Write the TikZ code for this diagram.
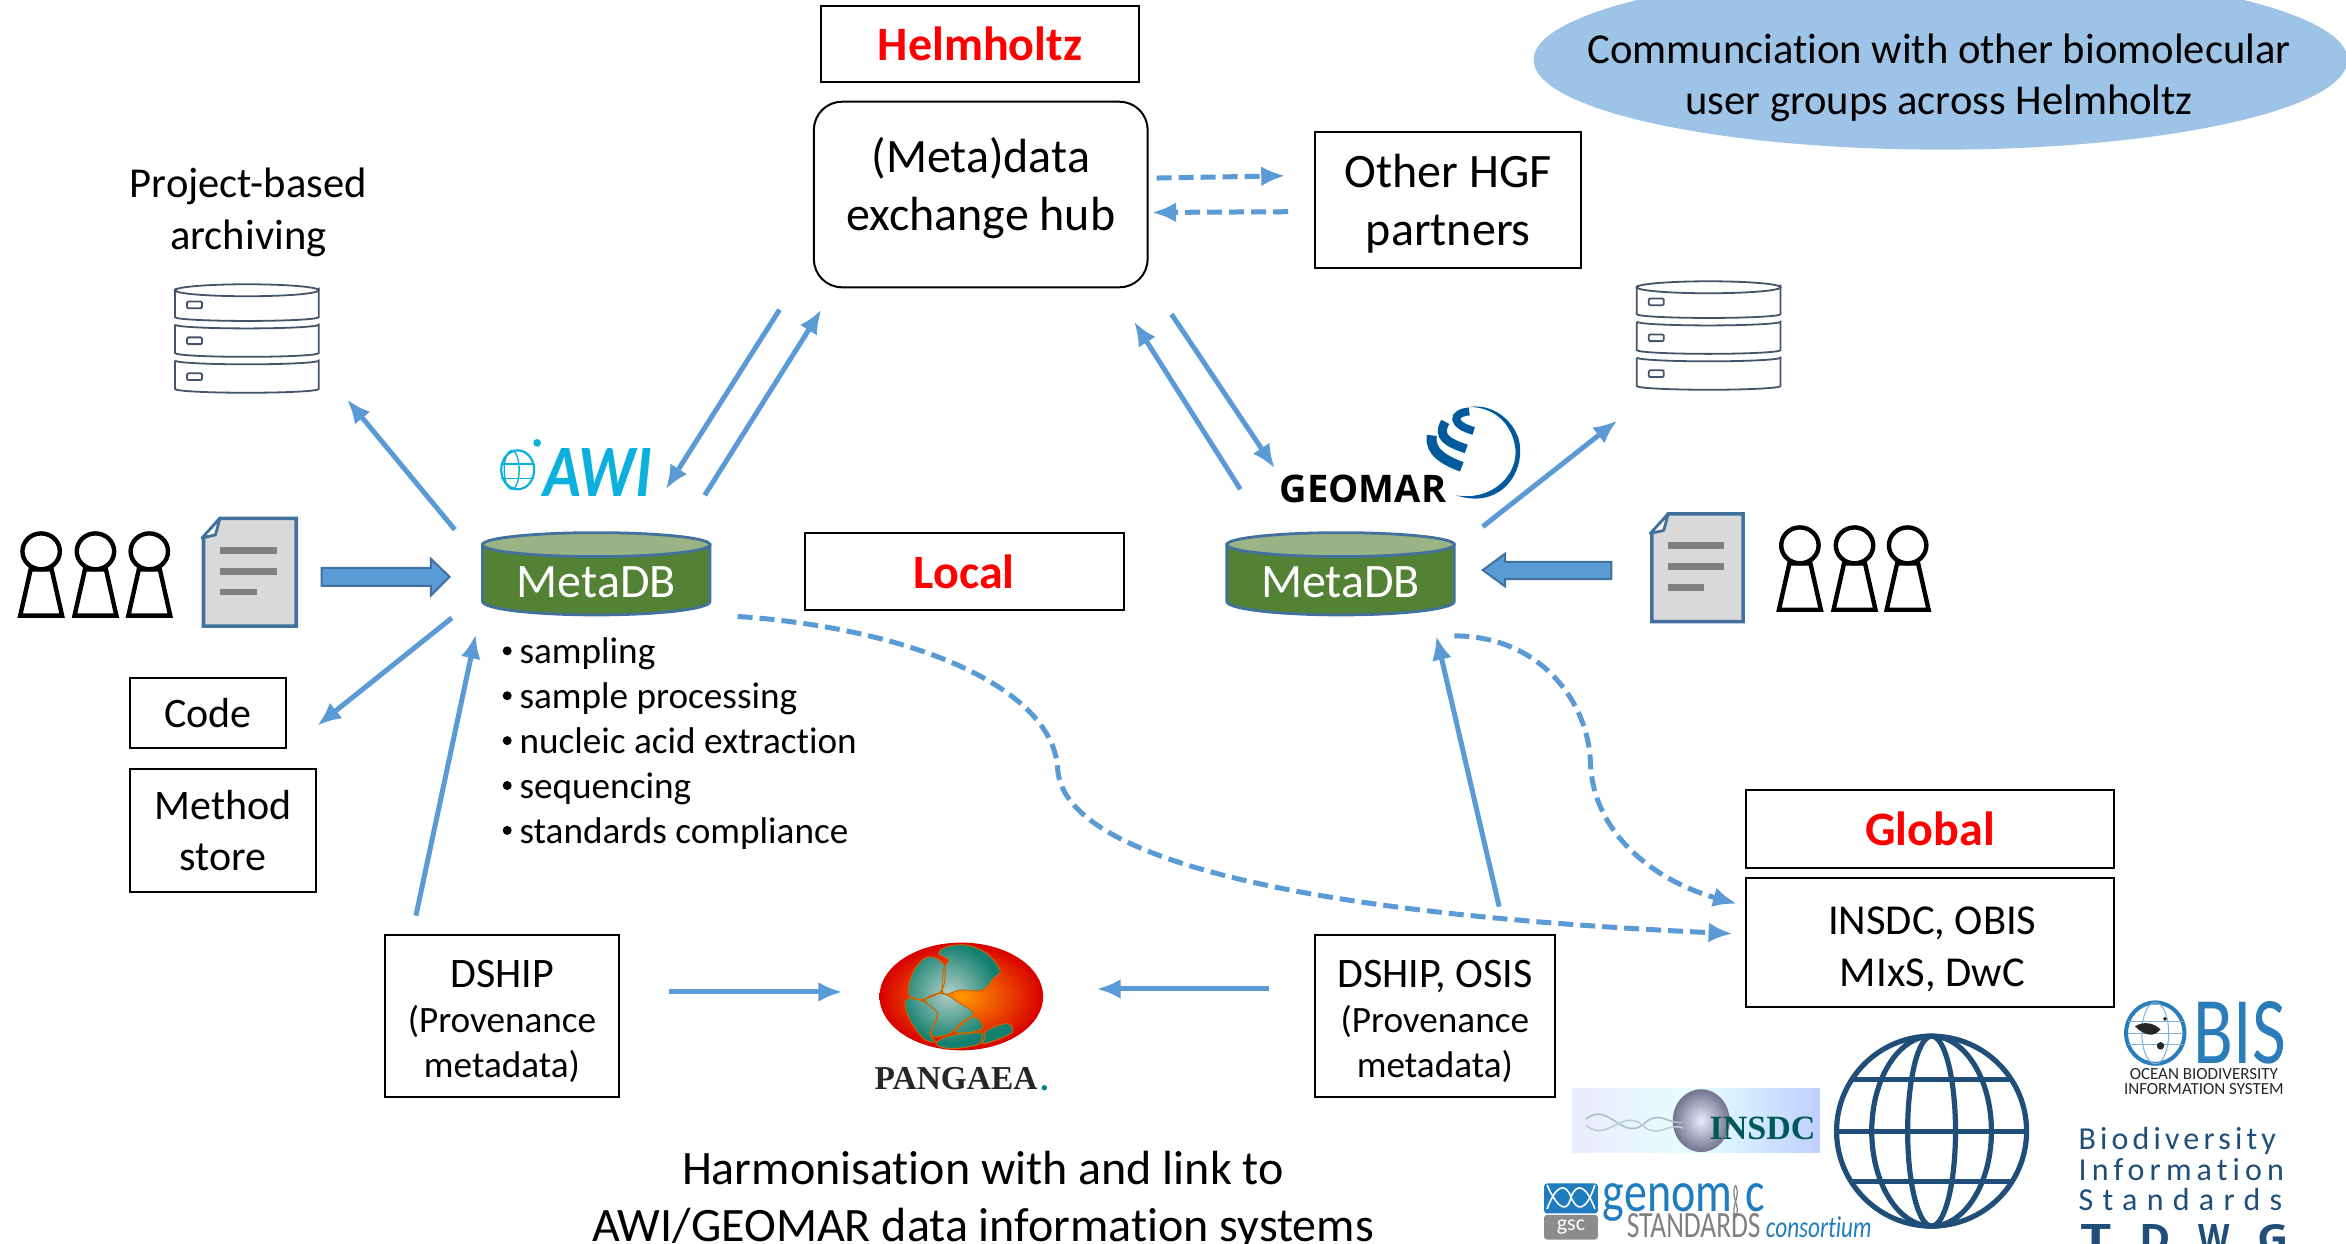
\documentclass[tikz,border=0pt]{standalone}
\usepackage{fontspec}
\usepackage{graphicx}
\setmainfont[Ligatures=NoCommon]{Carlito}
\newfontfamily\serifbold{Liberation Serif}
\newfontfamily\opensans{Open Sans}
\usetikzlibrary{arrows.meta,shapes.geometric}
\definecolor{arrowblue}{HTML}{5B9BD5}
\definecolor{edgeblue}{HTML}{41719C}
\definecolor{skyfill}{HTML}{9DC3E6}
\definecolor{dbgreen}{HTML}{548235}
\definecolor{dbtop}{HTML}{9BB486}
\definecolor{slate}{HTML}{44546A}
\definecolor{globeblue}{HTML}{1F4E79}
\definecolor{awicyan}{HTML}{0CB0DC}
\definecolor{obisblue}{HTML}{2A7DB8}
\definecolor{geoblue}{HTML}{005A9C}
\definecolor{gscblue}{HTML}{1F7CBF}
\definecolor{tdwgblue}{HTML}{1F4E79}
\definecolor{landteal}{HTML}{12806F}
\definecolor{landpale}{HTML}{B4CFC6}
\newcommand{\fs}[2]{\fontsize{#1}{#2}\selectfont}
\tikzset{
  box/.style={draw=black,line width=1pt,fill=white,inner sep=0pt,align=center,text=black},
  plain/.style={inner sep=0pt,align=center,text=black},
  conn/.style={draw=arrowblue,line width=2.5pt,-{Latex[length=12pt,width=10pt]}},
  dashconn/.style={conn,dash pattern=on 7.5pt off 3.5pt},
  block/.style={draw=edgeblue,line width=1pt,fill=arrowblue},
  srv/.style={draw=slate,line width=0.9pt,fill=white},
  person/.style={draw=black,line width=2.2pt,fill=white},
  docsheet/.style={draw=edgeblue,line width=1.8pt,fill=black!15},
  docline/.style={draw=none,fill=black!50},
  dbside/.style={draw=edgeblue,line width=1.4pt,fill=dbgreen},
  dbcap/.style={draw=edgeblue,line width=1.4pt,fill=dbtop},
  globeline/.style={draw=globeblue,line width=2.6pt},
  landpath/.style={insert path={
    plot[smooth cycle,tension=0.6] coordinates {(415,160)(440,140)(500,135)(560,160)(600,210)(580,235)(545,270)(480,270)(430,280)(430,210)(445,180)}
    plot[smooth cycle,tension=0.6] coordinates {(385,170)(432,195)(425,270)(365,298)(330,290)(325,260)(345,205)}
    plot[smooth cycle,tension=0.6] coordinates {(375,300)(425,280)(480,310)(520,340)(480,370)(450,400)(400,410)(395,390)(412,340)}
    plot[smooth cycle,tension=0.6] coordinates {(315,305)(350,295)(412,340)(390,400)(405,425)(370,415)(330,360)}
    plot[smooth cycle,tension=0.6] coordinates {(410,425)(460,405)(550,400)(540,430)(470,445)(420,440)}
    plot[smooth cycle,tension=0.6] coordinates {(465,395)(520,350)(548,380)(520,395)}
    plot[smooth cycle,tension=0.6] coordinates {(555,395)(620,370)(638,395)(600,415)(548,430)}
  }}
}
\newcommand{\serverstack}[2]{%
 \begin{scope}[shift={(#1,#2)}]
  \foreach \t in {48,24,0}{
   \draw[srv] (0,\t+3) -- (0,\t+22) arc[start angle=180,end angle=0,x radius=48,y radius=2.5] -- (96,\t+3) arc[start angle=0,end angle=180,x radius=48,y radius=2.5];
   \draw[srv,rounded corners=0.6pt] (8,\t+11.5) rectangle (18,\t+16);
  }
  \draw[srv] (48,4) ellipse [x radius=48,y radius=4];
 \end{scope}}
\newcommand{\docicon}[3]{%
 \begin{scope}[shift={(#1,#2)}]
  \draw[docsheet] (12,0) -- (#3,0) -- (#3,72) -- (1,72) -- (1,13) -- cycle;
  \fill[docline] (12,19) rectangle (#3-13,23.5);
  \fill[docline] (12,33) rectangle (#3-13,37.5);
  \fill[docline] (12,47) rectangle (#3-26,51.5);
  \draw[draw=edgeblue,line width=1.4pt,fill=white,line join=round] (12,0) -- (0,13) -- (9,11) -- cycle;
 \end{scope}}
\newcommand{\personicon}[2]{%
 \begin{scope}[shift={(#1,#2)}]
  \draw[person] (-7,24) -- (7,24) -- (14,55) -- (-14,55) -- cycle;
  \draw[person] (0,12) ellipse [x radius=12.5,y radius=12];
 \end{scope}}
\newcommand{\metadb}[3]{% centre x, name, unused
 \draw[dbside] (#1-76,364) -- (#1-76,402) arc[start angle=180,end angle=0,x radius=76,y radius=9] -- (#1+76,364) -- cycle;
 \draw[dbcap] (#1,364) ellipse [x radius=76,y radius=8];
 \node[plain,text=white,font=\fs{24}{29}] (#2) at (#1,389) {MetaDB};}
\begin{document}
\begin{tikzpicture}[x=0.748pt,y=-0.748pt]
\useasboundingbox (0,0) rectangle (1568,830.8);
\clip (0,0) rectangle (1568,830.8);
\fill[white] (0,0) rectangle (1568,830.8);

% top ellipse
\node[ellipse,fill=skyfill,draw=none,minimum width=544*0.748pt,minimum height=120*0.748pt,inner sep=0pt] (commbg) at (1297,40) {};
\node[plain,font=\fs{21.3}{25.5}] (comm) at (1296,52) {Communciation with other biomolecular\\user groups across Helmholtz};

% boxes
\node[box,minimum width=212*0.748pt,minimum height=51*0.748pt,text=red,font=\fs{24}{29}\bfseries] (helm) at (655,29.5) {Helmholtz};
\node[box,rounded corners=14pt,minimum width=223*0.748pt,minimum height=124*0.748pt] (hub) at (655.5,130) {};
\node[plain,font=\fs{24}{29}] (hubtext) at (655.5,126) {(Meta)data\\exchange hub};
\node[box,minimum width=178*0.748pt,minimum height=91*0.748pt] (hgf) at (968,133.5) {};
\node[plain,font=\fs{24}{29}] (hgftext) at (968,136) {Other HGF\\partners};
\node[box,minimum width=213*0.748pt,minimum height=52*0.748pt,text=red,font=\fs{24}{29}\bfseries] (local) at (644.5,382) {Local};
\node[box,minimum width=104*0.748pt,minimum height=47*0.748pt,font=\fs{21}{25.5}] (code) at (139,476.5) {Code};
\node[box,minimum width=124*0.748pt,minimum height=82*0.748pt,font=\fs{21}{25.5}] (method) at (149,555) {Method\\store};
\node[box,minimum width=157*0.748pt,minimum height=108*0.748pt] (dshipa) at (335.5,679) {};
\node[plain,font=\fs{18.6}{22.4}] (dshipatext) at (335.5,682.5) {{\fs{21}{22.4}DSHIP}\\(Provenance\\metadata)};
\node[box,minimum width=160*0.748pt,minimum height=108*0.748pt] (dshipb) at (959,679) {};
\node[plain,font=\fs{18.6}{22.4}] (dshipbtext) at (959,682.5) {{\fs{21}{22.4}DSHIP, OSIS}\\(Provenance\\metadata)};
\node[box,minimum width=246*0.748pt,minimum height=52*0.748pt,text=red,font=\fs{24}{29}\bfseries] (global) at (1290,554) {Global};
\node[box,minimum width=246*0.748pt,minimum height=86*0.748pt] (insdc) at (1290,630) {};
\node[plain,font=\fs{21.3}{26.3}] (insdctext) at (1291.5,634.5) {INSDC, OBIS\\MIxS, DwC};

% free labels
\node[plain,font=\fs{21.3}{26}] (proj) at (166,142) {Project-based\\archiving};
\node[plain,font=\fs{24}{28.5}] (harm) at (657,802) {Harmonisation with and link to\\AWI/GEOMAR data information systems};
\foreach \yy/\tt/\nm in {436/sampling/b1,466/sample processing/b2,496/nucleic acid extraction/b3,526/sequencing/b4,556/standards compliance/b5}{
  \node[plain,anchor=base west,font=\fs{18.6}{22}] (\nm) at (347,\yy+7.5) {\tt};
  \fill[black] (339,\yy-1) circle (3);
}

% databases
\metadb{398.5}{dba}{}
\metadb{896}{dbb}{}

% servers
\serverstack{117}{190}
\serverstack{1094}{188}

% documents and people
\docicon{135}{346.5}{63}
\docicon{1103}{343.5}{62}
\personicon{27.5}{356.5}
\personicon{63.8}{356.5}
\personicon{99.8}{356.5}
\personicon{1203}{352.5}
\personicon{1239.5}{352.5}
\personicon{1275}{352.5}

% block arrows
\draw[block] (215,379.5) -- (288,379.5) -- (288,373.5) -- (300.5,385.5) -- (288,398) -- (288,391.5) -- (215,391.5) -- cycle;
\draw[block] (1077,375.5) -- (1006,375.5) -- (1006,370) -- (991,381) -- (1006,392) -- (1006,387) -- (1077,387) -- cycle;

% connector end points
\coordinate (c1a) at (304,354); \coordinate (c1b) at (232,267);
\coordinate (c2a) at (302,413); \coordinate (c2b) at (212,485);
\coordinate (c3a) at (278,612); \coordinate (c3b) at (318,424);
\coordinate (c4a) at (447,663); \coordinate (c4b) at (563,663);
\coordinate (c5a) at (848,661); \coordinate (c5b) at (733,661);
\coordinate (c6a) at (1002,606); \coordinate (c6b) at (960,425);
\coordinate (c7a) at (521,207); \coordinate (c7b) at (445,327);
\coordinate (c8a) at (471,331); \coordinate (c8b) at (549,207);
\coordinate (c9a) at (829,327); \coordinate (c9b) at (758,215);
\coordinate (c10a) at (783,210); \coordinate (c10b) at (852,313);
\coordinate (c11a) at (991,352); \coordinate (c11b) at (1081,281);
\coordinate (d1a) at (773,119); \coordinate (d1b) at (859,117.5);
\coordinate (d2a) at (861,141.5); \coordinate (d2b) at (770,142);
\coordinate (e1a) at (493,412); \coordinate (e1m) at (707,515); \coordinate (e1b) at (1158,624);
\coordinate (e2a) at (972,425); \coordinate (e2m) at (1063,510); \coordinate (e2b) at (1161,604);

\foreach \n in {1,...,11}{ \draw[conn] (c\n a) -- (c\n b); }
\draw[dashconn] (d1a) -- (d1b);
\draw[dashconn] (d2a) -- (d2b);
\draw[dashconn] (e1a) .. controls (610,420) and (705,460) .. (e1m) .. controls (712,570) and (850,610) .. (e1b);
\draw[dashconn] (e2a) .. controls (1030,425) and (1062,470) .. (e2m) .. controls (1065,560) and (1110,590) .. (e2b);

% AWI logo
\draw[awicyan,line width=1.1pt] (346,314) ellipse [x radius=11,y radius=13];
\draw[awicyan,line width=0.7pt] (342,314) ellipse [x radius=5,y radius=13];
\draw[awicyan,line width=0.7pt] (335,310) -- (357,310) (335,320) -- (357,320);
\fill[awicyan] (359,296) circle (2.6);
\node[plain,text=awicyan] (awi) at (399.5,316) {\resizebox{54pt}{24pt}{\bfseries\itshape AWI}};

% GEOMAR logo
\node[plain,text=black,font=\opensans\fs{19}{22}\bfseries] (geomar) at (911,327) {GEOMAR};
\fill[geoblue] (973,331) .. controls (1000,340) and (1017,320) .. (1016,300) .. controls (1016,285) and (1000,269) .. (982,272) .. controls (1000,272) and (1012,285) .. (1013,302) .. controls (1013,320) and (995,335) .. (973,331) -- cycle;
\draw[geoblue,line width=4pt] (982,275) .. controls (970,276) and (970,284) .. (985,288);
\draw[geoblue,line width=4.5pt] (966,282) .. controls (960,292) and (968,296) .. (980,300);
\draw[geoblue,line width=5pt] (957,291) .. controls (955,302) and (966,308) .. (977,312);

% PANGAEA logo
\shade[inner color=orange!80!yellow,outer color=red!85!black] (642.5,666) ellipse [x radius=54.7,y radius=36];
\begin{scope}[shift={(534.76,601.6)},x=0.748pt*0.2228,y=-0.748pt*0.2228]
 \begin{scope}
  \clip[landpath];
  \fill[landteal] (200,50) rectangle (750,500);
  \shade[inner color=landpale,outer color=landteal] (445,280) circle (150);
 \end{scope}
 \draw[draw=orange!80!black,line width=0.5pt,landpath];
\end{scope}
\node[plain,font=\serifbold\fs{16.7}{20}\bfseries,text=black!85] (pangaea) at (639,721) {PANGAEA};
\fill[teal] (698,727) circle (1.8);

% globe
\draw[globeline] (1291,756) circle (63.5);
\draw[globeline] (1291,756) ellipse [x radius=40,y radius=63.5];
\draw[globeline] (1291,756) ellipse [x radius=16,y radius=63.5];
\draw[globeline] (1237,721.5) -- (1345,721.5);
\draw[globeline] (1228,756) -- (1354,756);
\draw[globeline] (1237,789.5) -- (1345,789.5);

% INSDC logo
\shade[left color=blue!8,right color=cyan!25!blue!25,middle color=cyan!10] (1051,727.5) rectangle (1216,770.5);
\shade[inner color=blue!8!white,outer color=blue!20!black!55] (1137,749) ellipse [x radius=19,y radius=21];
\draw[cyan!40!black!40,line width=0.8pt] (1060,748) .. controls (1075,735) and (1085,765) .. (1100,750) .. controls (1110,742) and (1115,752) .. (1125,750);
\draw[cyan!40!black!30,line width=0.8pt] (1060,752) .. controls (1075,765) and (1085,738) .. (1100,754) .. controls (1110,760) and (1115,750) .. (1125,754);
\node[plain,font=\serifbold\fs{17}{20}\bfseries,text=teal!70!black] (insdclogo) at (1178,754) {INSDC};

% genomic standards logo
\fill[gscblue,rounded corners=1.5pt] (1032,791) rectangle (1068,811);
\fill[black!45,rounded corners=1.5pt] (1032,812) rectangle (1068,828.5);
\draw[white,line width=0.8pt] (1034,792) .. controls (1042,810) and (1048,810) .. (1050,800) .. controls (1054,790) and (1060,792) .. (1066,808);
\draw[white,line width=0.8pt] (1034,808) .. controls (1040,792) and (1046,790) .. (1050,800) .. controls (1054,810) and (1060,810) .. (1066,792);
\node[plain,font=\fs{11}{12},text=white] (gsclabel) at (1050,820) {gsc};
\node[plain,anchor=base west,text=gscblue] (genom) at (1071,810) {\scalebox{1}[1.25]{\fs{23}{26}genom\hspace{6.5pt}c}};
\draw[black!50,line width=0.6pt] (1160,792) .. controls (1156,800) and (1164,806) .. (1160,814);
\draw[black!50,line width=0.6pt] (1160,792) .. controls (1164,800) and (1156,806) .. (1160,814);
\node[plain,anchor=base west,text=black!50] (stds) at (1087,827) {\scalebox{1}[1.35]{\fs{13.7}{15}STANDARDS}};
\node[plain,anchor=base west,text=gscblue] (consort) at (1180,827) {\scalebox{1}[1.3]{\fs{11.6}{14}\itshape consortium}};

% OBIS logo
\draw[obisblue,line width=2pt] (1440.5,690.5) ellipse [x radius=19.5,y radius=20.5];
\draw[obisblue!60,line width=0.5pt] (1440.5,690.5) ellipse [x radius=9,y radius=20.5];
\draw[obisblue!60,line width=0.5pt] (1422,683) -- (1459,683) (1422,690.5) -- (1459,690.5) (1422,698) -- (1459,698);
\fill[black!85] (1427,686) .. controls (1433,682) and (1440,684) .. (1444,688) .. controls (1440,693) and (1434,693) .. (1427,686) -- cycle;
\fill[black!85] (1444,699) circle (2.5);
\fill[black!85] (1447,681) circle (1.3);
\node[plain,anchor=west,text=obisblue] (obis) at (1466,690.5) {\resizebox{46pt}{31pt}{BIS}};
\node[plain,font=\fs{8.5}{7.6},text=black!85] (obistext) at (1473,723) {OCEAN BIODIVERSITY\\INFORMATION SYSTEM};

% TDWG logo
\node[plain,anchor=west,font=\fs{16}{19},text=tdwgblue] (tdwga) at (1389,762.5) {\addfontfeatures{LetterSpace=13}Biodiversity};
\node[plain,anchor=west,font=\fs{16}{19},text=tdwgblue] (tdwgb) at (1389,782) {\addfontfeatures{LetterSpace=16}Information};
\node[plain,anchor=west,font=\fs{16}{19},text=tdwgblue] (tdwgc) at (1389,802) {\addfontfeatures{LetterSpace=29}Standards};
\foreach \lx/\lt/\nm in {1401/T/tdt,1440.5/D/tdd,1480/W/tdw,1519.5/G/tdg}{
  \node[plain,anchor=north,text=tdwgblue,font=\opensans\bfseries] (\nm) at (\lx,818) {\resizebox{15.7pt}{14pt}{\lt}};
}
\end{tikzpicture}
\end{document}
